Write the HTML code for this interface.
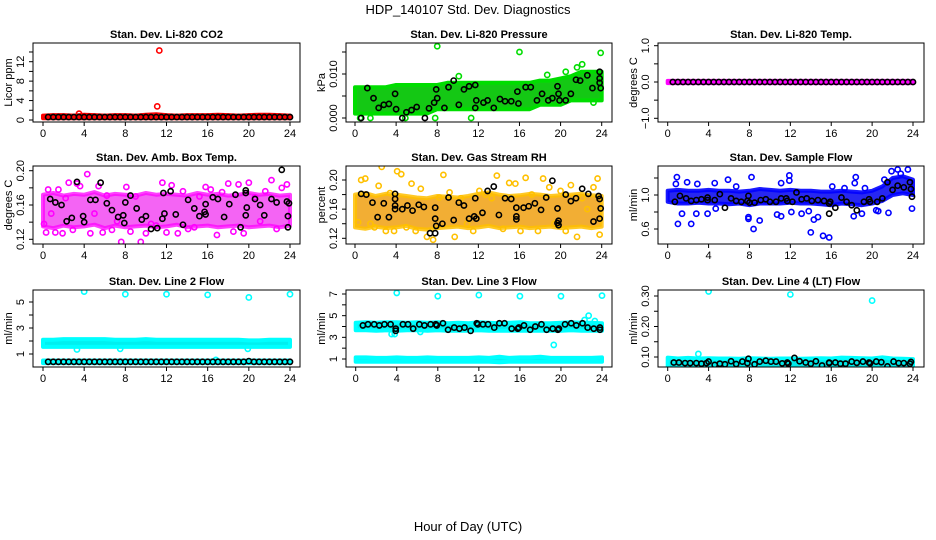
<!DOCTYPE html>
<html><head><meta charset="utf-8"><style>
body{margin:0;background:#fff;}
svg{display:block;font-family:"Liberation Sans",Arial,sans-serif;}
</style></head><body>
<svg id="chart" width="936" height="540" viewBox="0 0 936 540">
<text x="468" y="14" text-anchor="middle" font-size="13">HDP_140107  Std. Dev. Diagnostics</text>
<text x="468" y="531" text-anchor="middle" font-size="13">Hour of Day (UTC)</text>
</svg>
<script>
const bandHours=[0,1,2,3,4,5,6,7,8,9,10,11,12,13,14,15,16,17,18,19,20,21,22,23,24];
const halfHours=[0.5,1,1.5,2,2.5,3,3.5,4,4.5,5,5.5,6,6.5,7,7.5,8,8.5,9,9.5,10,10.5,11,11.5,12,12.5,13,13.5,14,14.5,15,15.5,16,16.5,17,17.5,18,18.5,19,19.5,20,20.5,21,21.5,22,22.5,23,23.5,24];
const xTicks=[0,4,8,12,16,20,24];

// P1 CO2
const co2Low=[0.35,0.35,0.35,0.35,0.35,0.35,0.35,0.35,0.35,0.35,0.35,0.35,0.35,0.35,0.35,0.35,0.35,0.35,0.35,0.35,0.35,0.35,0.35,0.35,0.35];
const co2High=[0.9,1.0,1.0,0.9,1.1,1.0,0.9,1.0,1.0,0.9,1.1,1.2,1.0,0.9,1.0,1.0,1.0,1.1,1.0,0.9,1.0,1.1,1.1,1.0,0.9];
const co2OutX=[3.5,11.1,11.3];
const co2OutY=[1.3,2.8,14.3];
const co2BlackY=[0.6,0.6,0.6,0.6,0.6,0.6,0.6,0.6,0.6,0.6,0.6,0.6,0.6,0.6,0.6,0.6,0.6,0.6,0.6,0.6,0.6,0.6,0.6,0.6,0.6,0.6,0.6,0.6,0.6,0.6,0.6,0.6,0.6,0.6,0.6,0.6,0.6,0.6,0.6,0.6,0.6,0.6,0.6,0.6,0.6,0.6,0.6,0.6];
// P2 Pressure
const presLow=[0.001,0.001,0.001,0.001,0.001,0.001,0.001,0.001,0.002,0.002,0.002,0.002,0.002,0.002,0.002,0.002,0.002,0.002,0.003,0.003,0.003,0.004,0.004,0.004,0.004];
const presHigh=[0.007,0.007,0.007,0.007,0.0075,0.0075,0.0075,0.0075,0.0075,0.008,0.008,0.008,0.008,0.008,0.008,0.008,0.008,0.008,0.0085,0.0085,0.009,0.0095,0.0105,0.0105,0.0105];
const presOutX=[8,16,23.9,22.1,21.6,20.5,0.5,1.5,4.9,7.8,11.3,10.1,18.7,23.2];
const presOutY=[0.0163,0.015,0.0148,0.0122,0.0115,0.0105,0,0,0,0,0,0.0095,0.0098,0.0035];
const presBlackX=[0.6,1.2,1.8,2.3,2.8,3.3,3.9,4.0,4.6,5.0,5.5,6.0,6.8,7.2,7.7,7.9,8.0,8.7,9.1,9.6,10.1,10.6,11.1,11.7,11.8,11.7,12.5,12.9,13.5,14.1,14.6,15.2,15.9,15.8,16.6,17.1,17.7,18.2,18.8,19.2,19.7,19.8,19.9,20.5,21.0,21.5,21.9,22.6,23.1,23.8,23.8,23.8,23.9];
const presBlackY=[0,0.0068,0.0045,0.0023,0.003,0.0032,0.0055,0.002,0,0.0013,0.0018,0.0025,0,0.0022,0.0035,0.0065,0.0045,0.0023,0.007,0.0085,0.003,0.0065,0.0072,0.0075,0.004,0.0023,0.0035,0.004,0.0023,0.0043,0.0038,0.0038,0.0033,0.006,0.007,0.007,0.004,0.0055,0.004,0.0045,0.0072,0.0055,0.004,0.004,0.0055,0.0087,0.0085,0.0097,0.0068,0.0105,0.009,0.008,0.0068];
// P3 Li-820 temp
const tempLow=[-0.03,-0.03,-0.03,-0.03,-0.03,-0.03,-0.03,-0.03,-0.03,-0.03,-0.03,-0.03,-0.03,-0.03,-0.03,-0.03,-0.03,-0.03,-0.03,-0.03,-0.03,-0.03,-0.03,-0.03,-0.03];
const tempHigh=[0.03,0.03,0.03,0.03,0.03,0.03,0.03,0.03,0.03,0.03,0.03,0.03,0.03,0.03,0.03,0.03,0.03,0.03,0.03,0.03,0.03,0.03,0.03,0.03,0.03];
const tempBlackY=[0,0,0,0,0,0,0,0,0,0,0,0,0,0,0,0,0,0,0,0,0,0,0,0,0,0,0,0,0,0,0,0,0,0,0,0,0,0,0,0,0,0,0,0,0,0,0,0];
// P4 Amb box temp
const ambLow=[0.135,0.133,0.136,0.134,0.135,0.137,0.133,0.136,0.134,0.135,0.136,0.134,0.135,0.137,0.134,0.135,0.136,0.134,0.135,0.136,0.134,0.135,0.136,0.134,0.136];
const ambHigh=[0.172,0.174,0.171,0.173,0.172,0.175,0.171,0.173,0.172,0.171,0.174,0.172,0.173,0.172,0.171,0.174,0.172,0.173,0.171,0.172,0.174,0.172,0.173,0.171,0.172];
const ambOutX=[0.1,0.3,0.5,0.8,1.2,1.5,1.9,2.2,2.5,2.9,3.3,3.6,4.3,4.6,5.0,5.4,5.8,6.2,6.7,7.2,7.6,8.1,8.5,9.0,9.5,10.0,10.5,11.0,11.6,12.0,12.5,13.1,13.6,14.1,14.7,15.2,15.8,16.3,16.9,17.4,18.0,18.5,19.0,19.5,20.0,20.6,21.1,21.6,22.2,22.7,23.2,23.7];
const ambOutY=[0.138,0.128,0.178,0.150,0.128,0.178,0.127,0.168,0.186,0.131,0.185,0.182,0.196,0.127,0.150,0.182,0.128,0.171,0.131,0.141,0.117,0.181,0.129,0.170,0.117,0.127,0.138,0.136,0.186,0.128,0.183,0.127,0.176,0.132,0.134,0.170,0.181,0.178,0.125,0.175,0.185,0.129,0.184,0.127,0.186,0.169,0.141,0.176,0.189,0.132,0.180,0.184];
const ambBlackX=[0.7,1.2,1.8,2.3,2.8,3.3,3.9,4.0,4.6,5.1,5.6,6.2,6.7,7.3,7.8,7.9,8.0,8.5,9.1,9.6,10.0,10.5,11.1,11.7,11.8,11.6,12.4,12.9,13.6,14.1,14.7,15.2,15.8,15.7,15.8,16.5,17.0,17.6,18.1,18.7,19.2,19.7,19.7,19.8,19.7,20.6,21.1,21.5,22.2,22.7,23.2,23.7,23.9,23.8,23.8];
const ambBlackY=[0.167,0.163,0.160,0.141,0.145,0.187,0.147,0.140,0.166,0.166,0.186,0.162,0.154,0.146,0.148,0.139,0.163,0.171,0.156,0.143,0.147,0.132,0.133,0.174,0.150,0.144,0.176,0.149,0.137,0.166,0.156,0.147,0.161,0.152,0.149,0.169,0.167,0.146,0.161,0.172,0.134,0.177,0.174,0.157,0.148,0.167,0.160,0.148,0.167,0.163,0.201,0.164,0.162,0.147,0.134];
// P5 Gas stream RH
const rhLow=[0.135,0.133,0.136,0.134,0.135,0.137,0.133,0.132,0.134,0.135,0.136,0.134,0.135,0.137,0.134,0.135,0.136,0.134,0.135,0.136,0.134,0.135,0.136,0.134,0.136];
const rhHigh=[0.180,0.182,0.178,0.181,0.180,0.178,0.176,0.175,0.178,0.177,0.176,0.178,0.181,0.183,0.180,0.178,0.179,0.181,0.180,0.178,0.179,0.180,0.181,0.179,0.178];
const rhOutX=[0.3,0.6,1.0,1.5,1.9,2.3,2.6,3.0,3.4,3.8,4.1,4.5,5.0,5.5,5.9,6.4,7.0,7.6,8.2,8.6,9.2,9.7,10.3,10.9,11.5,12.1,12.7,13.3,13.8,14.4,15.0,15.6,16.1,16.6,17.2,17.8,18.3,18.9,19.4,20.0,20.5,21.0,21.6,22.1,22.6,23.2,23.6,23.8];
const rhOutY=[0.142,0.200,0.202,0.140,0.135,0.192,0.218,0.130,0.182,0.130,0.212,0.208,0.135,0.195,0.130,0.188,0.122,0.118,0.176,0.207,0.183,0.122,0.175,0.140,0.130,0.185,0.180,0.175,0.206,0.133,0.196,0.195,0.130,0.203,0.180,0.130,0.202,0.190,0.140,0.185,0.130,0.193,0.122,0.175,0.160,0.190,0.202,0.125];
const rhBlackX=[0.6,1.1,1.7,2.2,2.8,3.3,3.9,3.9,3.9,3.9,4.6,5.1,5.6,6.2,6.7,7.3,7.8,7.8,7.9,7.8,8.5,9.1,9.6,10.1,10.6,11.1,11.7,11.6,11.8,12.4,12.9,13.5,14.0,14.6,15.2,15.7,15.7,15.7,16.4,16.9,17.5,18.1,18.6,19.2,19.7,19.7,19.8,19.8,20.5,21.0,21.5,22.1,22.7,23.2,23.7,23.8,23.8,23.9];
const rhBlackY=[0.181,0.180,0.169,0.149,0.168,0.149,0.181,0.174,0.165,0.160,0.160,0.165,0.158,0.166,0.163,0.127,0.162,0.147,0.137,0.127,0.140,0.176,0.145,0.169,0.165,0.147,0.175,0.150,0.147,0.155,0.185,0.191,0.152,0.175,0.174,0.162,0.150,0.146,0.162,0.164,0.168,0.159,0.176,0.199,0.161,0.141,0.138,0.144,0.180,0.171,0.175,0.188,0.181,0.143,0.178,0.174,0.147,0.161];
// P6 Sample flow
const sfLow=[0.92,0.90,0.90,0.91,0.90,0.90,0.89,0.90,0.88,0.90,0.90,0.90,0.91,0.90,0.90,0.89,0.88,0.90,0.89,0.88,0.90,0.93,1.0,1.02,1.0];
const sfHigh=[1.05,1.06,1.05,1.05,1.06,1.05,1.05,1.04,1.05,1.07,1.06,1.05,1.06,1.05,1.05,1.04,1.04,1.05,1.04,1.03,1.05,1.10,1.20,1.22,1.18];
const sfOutX=[0.9,0.8,1.0,1.4,1.9,2.3,2.8,2.9,3.9,4.6,4.7,5.9,6.7,8.2,8.4,9.0,7.9,7.9,10.7,11.1,11.1,11.9,11.9,12.1,13.1,13.8,14.0,14.3,14.7,15.2,15.8,16.1,17.3,18.2,18.3,18.4,19.0,19.3,20.4,20.6,21.6,21.9,22.5,23.5,23.9,22.8,21.2];
const sfOutY=[1.21,1.13,0.66,0.78,1.15,0.66,0.78,1.13,0.78,1.14,0.84,1.18,1.10,1.21,0.60,0.70,0.74,0.72,0.77,0.75,1.14,1.23,1.17,0.80,0.78,0.81,0.56,0.71,0.74,0.52,0.50,1.10,1.08,0.75,1.14,1.21,0.78,1.08,0.82,0.81,0.79,1.28,1.30,1.30,0.84,1.25,1.18];
const sfBlackX=[0.7,1.2,1.8,2.3,2.8,3.3,3.9,3.9,4.6,5.1,5.6,6.2,6.7,7.2,7.8,7.9,8.0,8.5,9.1,9.6,10.0,10.6,11.1,11.6,11.7,12.2,12.6,13.1,13.6,14.1,14.7,15.3,15.8,15.8,15.9,16.4,17.0,17.5,18.0,18.5,19.2,19.7,19.8,20.5,21.0,21.5,22.0,22.5,23.1,23.7,23.8,23.9];
const sfBlackY=[0.92,0.99,0.96,0.93,0.94,0.95,0.97,0.94,0.94,1.01,0.85,0.96,0.93,0.92,0.93,0.99,0.91,0.91,0.94,0.95,0.92,0.92,0.96,0.96,0.93,0.92,1.03,0.95,0.96,0.93,0.94,0.93,0.78,0.90,0.92,0.85,0.97,0.92,0.88,0.82,0.92,0.95,0.92,0.92,0.96,1.15,1.06,1.11,1.09,1.15,1.07,0.98];
// P7 Line 2 flow
const l2HiLow=[1.55,1.55,1.55,1.55,1.55,1.55,1.55,1.55,1.55,1.55,1.55,1.55,1.55,1.55,1.55,1.55,1.55,1.55,1.55,1.55,1.55,1.55,1.55,1.55,1.55];
const l2HiHigh=[2.1,2.1,2.15,2.15,2.15,2.15,2.15,2.1,2.1,2.1,2.15,2.1,2.1,2.1,2.1,2.1,2.1,2.1,2.1,2.1,2.05,2.05,2.1,2.1,2.1];
const l2LoLow=[0.3,0.3,0.3,0.3,0.3,0.3,0.3,0.3,0.3,0.3,0.3,0.3,0.3,0.3,0.3,0.3,0.3,0.3,0.3,0.3,0.3,0.3,0.3,0.3,0.3];
const l2LoHigh=[0.5,0.5,0.5,0.5,0.5,0.5,0.5,0.5,0.5,0.5,0.5,0.5,0.5,0.5,0.5,0.5,0.5,0.5,0.5,0.5,0.5,0.5,0.5,0.5,0.5];
const l2OutX=[4,8,12,16,20,24,3.3,7.5,19.9,16.8];
const l2OutY=[5.8,5.6,5.6,5.55,5.35,5.6,1.35,1.4,1.4,0.55];
const l2BlackY=[0.4,0.4,0.4,0.4,0.4,0.4,0.4,0.4,0.4,0.4,0.4,0.4,0.4,0.4,0.4,0.4,0.4,0.4,0.4,0.4,0.4,0.4,0.4,0.4,0.4,0.4,0.4,0.4,0.4,0.4,0.4,0.4,0.4,0.4,0.4,0.4,0.4,0.4,0.4,0.45,0.4,0.4,0.4,0.4,0.4,0.4,0.4,0.4];
// P8 Line 3 flow
const l3HiLow=[3.65,3.65,3.6,3.65,3.6,3.65,3.65,3.6,3.65,3.6,3.6,3.6,3.65,3.6,3.6,3.6,3.6,3.6,3.6,3.6,3.6,3.65,3.6,3.6,3.6];
const l3HiHigh=[4.35,4.4,4.35,4.4,4.4,4.35,4.4,4.35,4.4,4.3,4.35,4.3,4.4,4.35,4.3,4.35,4.4,4.3,4.3,4.3,4.35,4.4,4.35,4.35,4.3];
const l3LoLow=[0.75,0.75,0.75,0.75,0.75,0.75,0.75,0.75,0.75,0.75,0.75,0.75,0.75,0.75,0.7,0.75,0.75,0.75,0.75,0.75,0.75,0.75,0.75,0.75,0.75];
const l3LoHigh=[1.15,1.15,1.1,1.1,1.15,1.1,1.1,1.15,1.1,1.1,1.1,1.1,1.15,1.1,1.2,1.1,1.15,1.15,1.2,1.1,1.1,1.1,1.1,1.1,1.15];
const l3OutX=[4,8,12,16,20,24,3.5,3.8,6.3,19.3,22.3,22.7,23.3];
const l3OutY=[7.1,6.8,6.9,6.8,6.8,6.85,3.3,3.3,3.5,2.3,4.6,5.0,4.5];
const l3BlackX=[0.7,1.2,1.8,2.3,2.8,3.4,3.9,3.9,4.6,5.1,5.6,6.2,6.7,7.3,7.8,7.9,8.5,9.0,9.6,10.1,10.6,11.2,11.8,11.9,12.4,12.9,13.5,14.0,14.5,15.2,15.8,15.9,16.4,17.0,17.5,18.1,18.6,19.2,19.7,19.8,20.4,21.0,21.5,22.1,22.6,23.2,23.8,23.8];
const l3BlackY=[4.1,4.2,4.2,4.1,4.2,4.2,3.6,3.8,4.2,4.2,3.8,4.2,4.1,4.2,4.2,4.1,4.3,3.7,3.9,3.8,3.9,3.6,4.3,4.2,4.2,4.2,3.9,4.3,4.3,3.8,3.8,3.9,4.1,3.7,4.0,4.2,3.7,3.8,3.7,3.8,4.2,4.3,4.1,4.3,3.9,3.8,3.7,3.9];
// P9 Line 4 flow
const l4Low=[0.062,0.062,0.062,0.062,0.062,0.062,0.062,0.062,0.062,0.062,0.062,0.062,0.062,0.062,0.062,0.062,0.062,0.062,0.062,0.062,0.062,0.062,0.062,0.062,0.062];
const l4High=[0.098,0.095,0.097,0.095,0.096,0.095,0.095,0.094,0.096,0.095,0.094,0.095,0.095,0.094,0.095,0.096,0.095,0.098,0.097,0.096,0.095,0.099,0.095,0.094,0.093];
const l4OutX=[4,12,20,3];
const l4OutY=[0.315,0.305,0.285,0.11];
const l4BlackX=[0.6,1.1,1.7,2.2,2.8,3.3,3.8,4.0,4.6,5.1,5.6,6.2,6.7,7.3,7.8,7.9,8.5,9.0,9.6,10.1,10.6,11.2,11.7,11.8,12.4,12.9,13.5,14.0,14.5,15.1,15.8,15.8,16.4,16.9,17.4,18.0,18.5,19.1,19.7,19.8,20.4,20.9,21.5,22.1,22.6,23.1,23.7,23.8];
const l4BlackY=[0.082,0.082,0.080,0.080,0.080,0.078,0.080,0.085,0.074,0.078,0.076,0.086,0.077,0.085,0.080,0.094,0.076,0.085,0.088,0.085,0.085,0.079,0.082,0.078,0.097,0.086,0.082,0.078,0.086,0.072,0.082,0.080,0.082,0.078,0.078,0.085,0.081,0.085,0.082,0.079,0.085,0.083,0.069,0.085,0.080,0.080,0.078,0.084];

const panels=[
 {name:'co2',title:'Stan. Dev. Li-820 CO2',ylab:'Licor ppm',box:[33,43,300,122],xp:[43,290],yr:[0,120,12,61.7],
  yt:[0,2,4,6,8,10,12,14],yl:[0,4,8,12],fmt:v=>String(v),col:'#ff0000',bandCol:'#e00000',op:1,
  bands:[[co2Low,co2High]],outX:co2OutX,outY:co2OutY,bx:halfHours,by:co2BlackY},
 {name:'pressure',title:'Stan. Dev. Li-820 Pressure',ylab:'kPa',box:[346,43,612,122],xp:[355,601.7],yr:[0,118,0.01,74],
  yt:[0,0.005,0.01,0.015],yl:[0,0.01],fmt:v=>v.toFixed(3),col:'#00dd00',bandCol:'#14c814',op:1,
  bands:[[presLow,presHigh]],outX:presOutX,outY:presOutY,bx:presBlackX,by:presBlackY},
 {name:'li820-temp',title:'Stan. Dev. Li-820 Temp.',ylab:'degrees C',box:[658,43,924,122],xp:[667.7,913],yr:[0,82,1,45.7],
  yt:[-1,-0.5,0,0.5,1],yl:[-1,0,1],fmt:v=>(v<0?'\u22121.0':v.toFixed(1)),col:'#ff00ff',bandCol:'#ff00ff',op:1,
  bands:[[tempLow,tempHigh]],outX:[],outY:[],bx:halfHours,by:tempBlackY},
 {name:'amb-box-temp',title:'Stan. Dev. Amb. Box Temp.',ylab:'degrees C',box:[33,166,300,244],xp:[43,290],yr:[0.12,239.3,0.2,170.7],
  yt:[0.12,0.14,0.16,0.18,0.2],yl:[0.12,0.16,0.2],fmt:v=>v.toFixed(2),col:'#ff00ff',bandCol:'#f030f0',op:0.75,
  bands:[[ambLow,ambHigh]],outX:ambOutX,outY:ambOutY,bx:ambBlackX,by:ambBlackY},
 {name:'gas-stream-rh',title:'Stan. Dev. Gas Stream RH',ylab:'percent',box:[346,166,612,244],xp:[355,601.7],yr:[0.12,238.3,0.2,180],
  yt:[0.12,0.14,0.16,0.18,0.2],yl:[0.12,0.16,0.2],fmt:v=>v.toFixed(2),col:'#ffc000',bandCol:'#f0a010',op:0.85,
  bands:[[rhLow,rhHigh]],outX:rhOutX,outY:rhOutY,bx:rhBlackX,by:rhBlackY},
 {name:'sample-flow',title:'Stan. Dev. Sample Flow',ylab:'ml/min',box:[658,166,924,244],xp:[667.7,913],yr:[1.0,195,0.6,229],
  yt:[0.6,0.8,1.0,1.2],yl:[0.6,1.0],fmt:v=>v.toFixed(1),col:'#0000ff',bandCol:'#1010f0',op:0.9,
  bands:[[sfLow,sfHigh]],outX:sfOutX,outY:sfOutY,bx:sfBlackX,by:sfBlackY},
 {name:'line2-flow',title:'Stan. Dev. Line 2 Flow',ylab:'ml/min',box:[33,290,300,367],xp:[43,290],yr:[1,354,5,302],
  yt:[1,2,3,4,5],yl:[1,3,5],fmt:v=>String(v),col:'#00ffff',bandCol:'#00f0f0',op:1,
  bands:[[l2HiLow,l2HiHigh],[l2LoLow,l2LoHigh]],outX:l2OutX,outY:l2OutY,bx:halfHours,by:l2BlackY},
 {name:'line3-flow',title:'Stan. Dev. Line 3 Flow',ylab:'ml/min',box:[346,290,612,367],xp:[355.7,602],yr:[1,359,7,294],
  yt:[1,2,3,4,5,6,7],yl:[1,3,5,7],fmt:v=>String(v),col:'#00ffff',bandCol:'#00f0f0',op:1,
  bands:[[l3HiLow,l3HiHigh],[l3LoLow,l3LoHigh]],outX:l3OutX,outY:l3OutY,bx:l3BlackX,by:l3BlackY},
 {name:'line4-flow',title:'Stan. Dev. Line 4 (LT) Flow',ylab:'ml/min',box:[658,290,924,367],xp:[667.7,913],yr:[0.1,357,0.3,296],
  yt:[0.1,0.15,0.2,0.25,0.3],yl:[0.1,0.2,0.3],fmt:v=>v.toFixed(2),col:'#00ffff',bandCol:'#00e8e8',op:1,
  bands:[[l4Low,l4High]],outX:l4OutX,outY:l4OutY,bx:l4BlackX,by:l4BlackY}
];

const NS='http://www.w3.org/2000/svg';
const svg=document.getElementById('chart');
function mk(tag,attrs,parent){const e=document.createElementNS(NS,tag);for(const k in attrs)e.setAttribute(k,attrs[k]);(parent||svg).appendChild(e);return e;}

panels.forEach((p,pi)=>{
  const [L,T,R,B]=p.box;
  const g=mk('g',{});
  
  
  const xs=h=>p.xp[0]+(p.xp[1]-p.xp[0])*h/24;
  const ys=v=>p.yr[1]+(p.yr[3]-p.yr[1])*(v-p.yr[0])/(p.yr[2]-p.yr[0]);
  const cp=mk('clipPath',{id:'clip'+pi},g);
  mk('rect',{x:L,y:T,width:R-L,height:B-T},cp);
  const plot=mk('g',{'clip-path':'url(#clip'+pi+')'},g);
  // bands
  p.bands.forEach(([lo,hi])=>{
    let d='';
    bandHours.forEach((h,i)=>{d+=(i?'L':'M')+xs(h).toFixed(1)+','+ys(hi[i]).toFixed(1);});
    for(let i=bandHours.length-1;i>=0;i--)d+='L'+xs(bandHours[i]).toFixed(1)+','+ys(lo[i]).toFixed(1);
    const band=mk('path',{d:d+'Z',fill:p.bandCol,'fill-opacity':p.op,stroke:p.col,'stroke-width':4,'stroke-linejoin':'round','stroke-opacity':p.op},plot);
    
    
  });
  p.outX.forEach((h,i)=>{
    const c=mk('circle',{cx:xs(h),cy:ys(p.outY[i]),r:2.6,fill:'none',stroke:p.col,'stroke-width':1.6},plot);
    
    
  });
  p.bx.forEach((h,i)=>{
    const c=mk('circle',{cx:xs(h),cy:ys(p.by[i]),r:2.6,fill:'none',stroke:'#000','stroke-width':1.6},plot);
    
    
  });
  const frame=mk('rect',{x:L,y:T,width:R-L,height:B-T,fill:'none',stroke:'#000','stroke-width':1},g);
  
  
  // x ticks
  xTicks.forEach(h=>{
    const x=xs(h);
    mk('line',{x1:x,x2:x,y1:B,y2:B+4,stroke:'#000'},g);
    const t=mk('text',{x:x,y:B+15,'text-anchor':'middle','font-size':11},g);
    t.textContent=h;
    
    
  });
  p.yt.forEach(v=>{const y=ys(v);mk('line',{x1:L-4,x2:L,y1:y,y2:y,stroke:'#000'},g);});
  p.yl.forEach(v=>{
    const y=ys(v);
    const t=mk('text',{x:0,y:0,'text-anchor':'middle','font-size':11,transform:'translate('+(L-9)+','+y+') rotate(-90)'},g);
    t.textContent=p.fmt(v);
    
    
  });
  const yt=mk('text',{x:0,y:0,'text-anchor':'middle','font-size':11,transform:'translate('+(L-21)+','+((T+B)/2)+') rotate(-90)'},g);
  yt.textContent=p.ylab;
  
  
  const tt=mk('text',{x:(L+R)/2,y:T-5,'text-anchor':'middle','font-size':11,'font-weight':'bold'},g);
  tt.textContent=p.title;
  
  
});
</script>
</body></html>
